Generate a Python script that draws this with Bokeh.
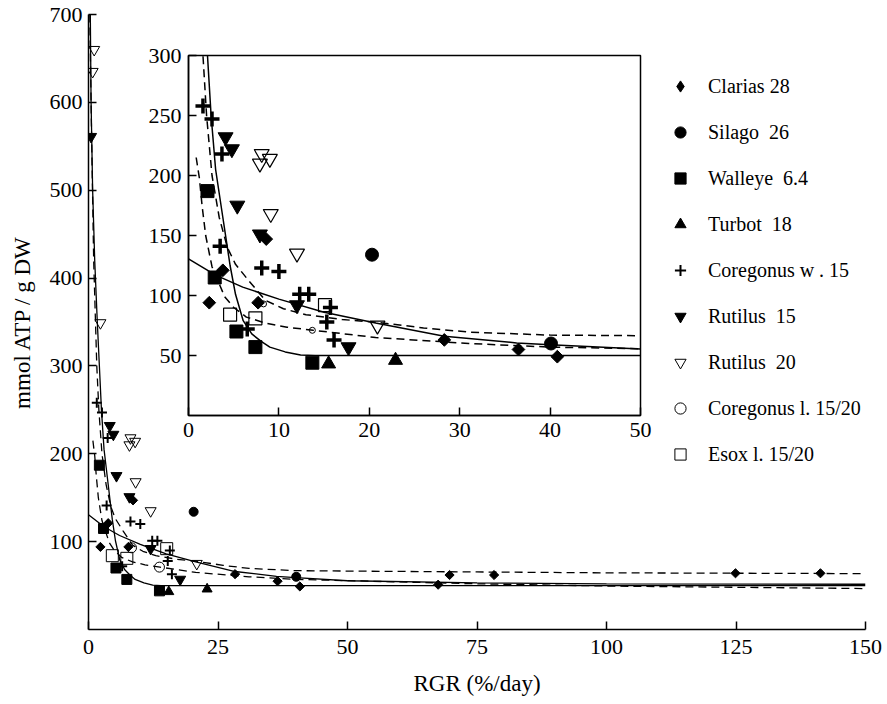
import numpy as np
from bokeh.plotting import figure
from bokeh.models import FixedTicker, Legend, LegendItem, Range1d, Column
from bokeh.embed import file_html
from bokeh.resources import INLINE

FONT = "Liberation Serif"

# ---- data ----
clarias_x = [2.3, 3.8, 7.7, 8.6, 28.3, 36.5, 40.8, 67.5, 69.7, 78.3, 124.9, 141.3]
clarias_y = [94, 121, 94, 147, 63, 55, 49, 51, 62, 62, 64, 64]
silago_x = [20.3, 40.1]
silago_y = [134, 60]
walleye_x = [2.1, 2.9, 5.3, 7.4, 13.7]
walleye_y = [187, 115, 70, 57, 44]
turbot_x = [15.5, 22.9]
turbot_y = [43, 46]
corw_x = [1.6, 2.6, 3.7, 3.5, 8.1, 10.0, 12.3, 13.3, 15.7, 15.3, 6.5, 16.1]
corw_y = [258, 247, 218, 141, 123, 120, 101, 101, 90, 78, 72, 63]
rut15_x = [0.5, 4.1, 4.8, 5.4, 7.9, 12.0, 17.7]
rut15_y = [561, 232, 222, 175, 151, 92, 57]
rut20_x = [0.8, 1.1, 2.3, 8.1, 7.9, 9.0, 9.1, 12.0, 20.9]
rut20_y = [635, 660, 349, 218, 210, 214, 168, 135, 75]
corl_x = [8.3, 13.7]
corl_y = [93, 71]
esox_x = [4.6, 7.4, 15.1]
esox_y = [84, 81, 92]

# fitted curves
s1_x = [0.35, 0.5, 0.8, 1.2, 1.7, 2.1, 2.5, 3.0, 3.8, 4.6, 5.2, 6.05, 7.0, 8.0, 9.0, 10.7, 12.4, 14.0, 150]
s1_y = [700, 600, 500, 420, 350, 300, 250, 205, 165, 125, 101, 79, 68, 62, 57, 53, 50.5, 50, 50]
s2_x = [0, 3, 6, 10, 15, 20.7, 28.3, 36.3, 40, 50, 75, 100, 150]
s2_y = [130.5, 117, 107, 97, 86, 77, 66, 60.5, 59, 55.5, 53, 52, 51.5]
d1_x = [0.25, 0.6, 1.0, 1.6, 2.0, 2.6, 3.4, 4.3, 5.2, 6.7, 8.5, 10.5, 13, 17, 21, 26, 31, 40, 50, 75, 100, 150]
d1_y = [700, 560, 420, 300, 250, 200, 165, 140, 126, 112, 96, 89, 84, 80, 77.5, 73, 69.5, 67, 66.5, 65.5, 64.5, 63.6]
d3_x = [0.85, 1.2, 1.5, 1.9, 2.6, 4.0, 5.0, 6.4, 8.5, 10.9, 13.8, 20.7, 31, 40, 50, 75, 100, 150]
d3_y = [215, 198, 175, 150, 124, 99, 90, 82, 77, 73.6, 71, 65, 60, 57, 55.6, 52, 49.5, 46.6]

labels = ["Clarias 28", "Silago  26", "Walleye  6.4", "Turbot  18", "Coregonus w . 15",
          "Rutilus  15", "Rutilus  20", "Coregonus l. 15/20", "Esox l. 15/20"]

# x, y, marker, filled, main size, inset size, angle, main lw, inset lw, legend marker
series = [
    (clarias_x, clarias_y, "square", True, 6.5, 9, np.pi / 4, 1, 1, "diamond"),
    (silago_x, silago_y, "circle", True, 9, 13, 0, 1, 1, None),
    (walleye_x, walleye_y, "square", True, 10, 13, 0, 1, 1, None),
    (turbot_x, turbot_y, "triangle", True, 10, 14, 0, 1, 1, None),
    (corw_x, corw_y, "cross", True, 10, 15, 0, 2, 3.5, None),
    (rut15_x, rut15_y, "inverted_triangle", True, 11, 15, 0, 1, 1, None),
    (rut20_x, rut20_y, "inverted_triangle", False, 11, 15, 0, 1, 1.2, None),
    (corl_x, corl_y, "circle", False, 10, 6, 0, 1, 1, None),
    (esox_x, esox_y, "square", False, 12, 13, 0, 1, 1.2, None),
]

W, H = 887, 704

# ---------------- main figure ----------------
p = figure(width=W, height=H, output_backend="svg", toolbar_location=None,
           x_range=Range1d(0, 150), y_range=Range1d(0, 700),
           min_border_left=88, min_border_right=22, min_border_top=14, min_border_bottom=75)
p.outline_line_color = None
p.grid.visible = False
p.background_fill_color = None
p.border_fill_color = "white"
# a range used only to host the key's glyph (kept off the frame)
p.extra_x_ranges = {"key": Range1d(1000, 1001)}

p.xaxis.ticker = FixedTicker(ticks=[0, 25, 50, 75, 100, 125, 150])
p.yaxis.ticker = FixedTicker(ticks=[100, 200, 300, 400, 500, 600, 700])
p.xaxis.axis_label = "RGR (%/day)"
p.yaxis.axis_label = "mmol ATP / g DW"
for ax in (p.xaxis[0], p.yaxis[0]):
    ax.major_tick_in = 8
    ax.major_tick_out = 0
    ax.minor_tick_line_color = None
    ax.axis_line_width = 1.5
    ax.major_tick_line_width = 1.5
    ax.major_label_text_font = FONT
    ax.major_label_text_font_size = "22px"
    ax.major_label_text_color = "black"
    ax.axis_label_text_font = FONT
    ax.axis_label_text_font_size = "23px"
    ax.axis_label_text_font_style = "normal"
    ax.axis_label_text_color = "black"
p.xaxis.major_label_standoff = 10
p.xaxis.axis_label_standoff = 14
p.yaxis.major_label_standoff = 6
p.yaxis.axis_label_standoff = 12

DASH = "8 5"
p.line(s1_x, s1_y, color="black", line_width=1.3)
p.line(s2_x, s2_y, color="black", line_width=1.3)
p.line(d1_x, d1_y, color="black", line_width=1.3, line_dash=DASH)
p.line(d3_x, d3_y, color="black", line_width=1.3, line_dash=DASH)

items = []
for lab, (xs, ys, mk, filled, ms, isz, ang, mlw, ilw, lmk) in zip(labels, series):
    fc = "black" if filled else None
    r = p.scatter(xs, ys, marker=mk, size=ms, angle=ang,
                  fill_color=fc, line_color="black", line_width=mlw)
    if lmk is not None:
        # key glyph with the shape shown in the legend; its points sit on an off-frame range
        r = p.scatter(xs, ys, marker=lmk, x_range_name="key",
                      fill_color=fc, line_color="black", line_width=mlw)
    items.append(LegendItem(label=lab, renderers=[r]))

leg = Legend(items=items, location=(578, 161), orientation="vertical",
             glyph_width=28, glyph_height=28, label_height=28, spacing=18,
             label_standoff=14, padding=0, margin=0,
             border_line_color=None, background_fill_alpha=0,
             label_text_font=FONT, label_text_font_size="20px", label_text_color="black")
p.add_layout(leg, "center")

# ---------------- inset figure ----------------
IL, IT, IR, IB = 70, 20, 10, 45
q = figure(width=IL + 482 + IR, height=IT + 360 + IB, output_backend="svg", toolbar_location=None,
           x_range=Range1d(0, 50), y_range=Range1d(0, 300),
           min_border_left=IL, min_border_right=IR, min_border_top=IT, min_border_bottom=IB)
q.grid.visible = False
q.outline_line_color = "black"
q.outline_line_width = 1.5
q.background_fill_color = None
q.border_fill_color = None
q.xaxis.ticker = FixedTicker(ticks=[0, 10, 20, 30, 40, 50])
q.yaxis.ticker = FixedTicker(ticks=[50, 100, 150, 200, 250, 300])
for ax in (q.xaxis[0], q.yaxis[0]):
    ax.major_tick_in = 8
    ax.major_tick_out = 0
    ax.minor_tick_line_color = None
    ax.axis_line_width = 1.5
    ax.major_tick_line_width = 1.5
    ax.major_label_text_font = FONT
    ax.major_label_text_font_size = "22px"
    ax.major_label_text_color = "black"
q.xaxis.major_label_standoff = 7
q.yaxis.major_label_standoff = 7

q.line(s1_x, s1_y, color="black", line_width=1.5)
q.line(s2_x, s2_y, color="black", line_width=1.5)
q.line(d1_x, d1_y, color="black", line_width=1.5, line_dash=DASH)
q.line(d3_x, d3_y, color="black", line_width=1.5, line_dash=DASH)
for xs, ys, mk, filled, ms, isz, ang, mlw, ilw, lmk in series:
    q.scatter(xs, ys, marker=mk, size=isz, angle=ang,
              fill_color="black" if filled else None, line_color="black", line_width=ilw)

q.styles = {"position": "absolute", "left": f"{170 - IL}px", "top": f"{55 - IT}px"}

lay = Column(children=[p, q], width=W, height=H, styles={"position": "relative"})

open("out.html", "w").write(file_html(lay, INLINE))
